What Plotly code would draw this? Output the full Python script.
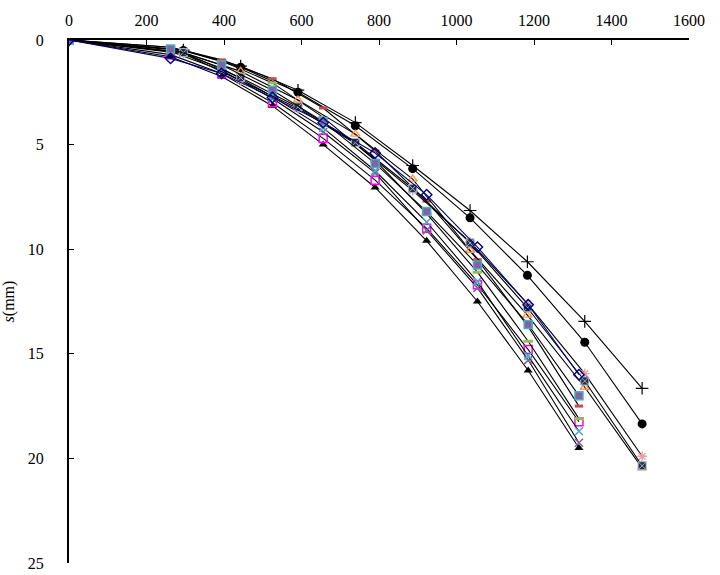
import plotly.graph_objects as go

# x grids (load) for the two groups of curves
x_a = [0, 262, 394, 525, 656, 790, 923, 1054, 1185, 1316]
x_b = [0, 295, 443, 591, 739, 887, 1035, 1183, 1331, 1479]

# settlement s (mm)
s_blue_diamond = [0, 0.88, 1.6, 2.75, 3.95, 5.4, 7.4, 9.9, 12.65, 16.0]
s_teal_square = [0, 0.43, 1.2, 2.4, 3.9, 5.9, 8.2, 10.75, 13.6, 17.0]
s_orange_tri = [0, 0.6, 1.5, 2.87, 4.5, 6.65, 10.05, 13.15, 16.6, 20.45]
s_pink_star = [0, 0.65, 1.95, 3.27, 4.95, 7.2, 9.65, 12.6, 15.95, 19.9]
s_teal_x = [0, 0.45, 1.35, 2.7, 4.2, 6.25, 8.7, 11.55, 15.1, 18.7]
s_purple_x = [0, 0.55, 1.45, 2.8, 4.4, 6.35, 9.1, 11.85, 15.3, 19.25]
s_magenta_sq = [0, 0.7, 1.6, 3.0, 4.7, 6.7, 9.0, 11.7, 14.8, 18.25]
s_black_tri = [0, 0.8, 1.75, 3.15, 5.0, 7.05, 9.6, 12.5, 15.8, 19.5]
s_black_circle = [0, 0.5, 1.3, 2.5, 4.1, 6.15, 8.5, 11.25, 14.45, 18.35]
s_plus = [0, 0.48, 1.25, 2.4, 3.95, 6.0, 8.15, 10.6, 13.45, 16.65]
s_box_x = [0, 0.6, 1.8, 3.2, 4.9, 7.1, 9.7, 12.8, 16.3, 20.35]
s_red_dash = [0, 0.35, 0.95, 1.85, 3.25, 5.3, 7.7, 10.5, 13.7, 17.5]
s_green_dash = [0, 0.35, 1.0, 2.05, 3.7, 5.75, 8.3, 11.1, 14.4, 18.1]

x_ticks = [0, 200, 400, 600, 800, 1000, 1200, 1400, 1600]
y_ticks = [0, 5, 10, 15, 20, 25]

series = [
    (x_b, s_plus, dict(symbol="cross-thin-open", size=9, color="black", line=dict(color="black", width=1.2)), "black"),
    (x_b, s_black_circle, dict(symbol="circle", size=9, color="black"), "black"),
    (x_a, s_black_tri, dict(symbol="triangle-up", size=8, color="black"), "black"),
    (x_a, s_magenta_sq, dict(symbol="square-open", size=8, color="#FF00FF", line=dict(color="#FF00FF", width=1.5)), "black"),
    (x_a, s_purple_x, dict(symbol="x-thin-open", size=8, color="#8064A2", line=dict(color="#8064A2", width=1.6)), "black"),
    (x_a, s_teal_x, dict(symbol="x-thin-open", size=8, color="#4BACC6", line=dict(color="#4BACC6", width=1.6)), "black"),
    (x_a, s_green_dash, dict(symbol="line-ew-open", size=7, color="#9BBB59", line=dict(color="#9BBB59", width=3)), "black"),
    (x_a, s_red_dash, dict(symbol="line-ew-open", size=6, color="#C0504D", line=dict(color="#C0504D", width=3)), "black"),
    (x_b, s_orange_tri, dict(symbol="triangle-up-open", size=8, color="#F79646", line=dict(color="#F79646", width=1.4)), "black"),
    (x_b, s_pink_star, dict(symbol="asterisk-open", size=8, color="#E6A0A0", line=dict(color="#E6A0A0", width=1.4)), "black"),
    (x_b, s_box_x, dict(symbol="square-x", size=8, color="#2a2a3a", line=dict(color="#9fb4d0", width=1)), "black"),
    (x_a, s_teal_square, dict(symbol="square", size=8, color="#8064A2", line=dict(color="#4BACC6", width=1.5)), "black"),
    (x_a, s_blue_diamond, dict(symbol="diamond-open", size=8, color="#000080", line=dict(color="#000080", width=1.4)), "#000080"),
]

fig = go.Figure()
for xs, ys, mk, lc in series:
    fig.add_trace(go.Scatter(x=xs, y=ys, mode="lines+markers",
                             line=dict(color=lc, width=1.1), marker=mk,
                             showlegend=False))

font_family = "Liberation Serif, DejaVu Serif, serif"
fig.update_layout(
    width=720, height=575,
    margin=dict(l=69, r=31, t=40, b=12),
    paper_bgcolor="white", plot_bgcolor="white",
    font=dict(family=font_family, size=16, color="black"),
    xaxis=dict(side="top", range=[0, 1600], tickvals=x_ticks,
               showgrid=False, zeroline=False, showline=True,
               linecolor="black", linewidth=2, ticks="inside",
               ticklen=5, tickcolor="black", tickwidth=1,
               ticklabelstandoff=6, automargin=False),
    yaxis=dict(range=[25, 0], tickvals=y_ticks, showgrid=False,
               zeroline=False, showline=True, linecolor="black",
               linewidth=2, ticks="inside", ticklen=5, tickcolor="black",
               tickwidth=1, ticklabelstandoff=20, automargin=False,
               title=dict(text="<i>s</i>(mm)", font=dict(size=16), standoff=12)),
)

fig.write_html("out.html")
